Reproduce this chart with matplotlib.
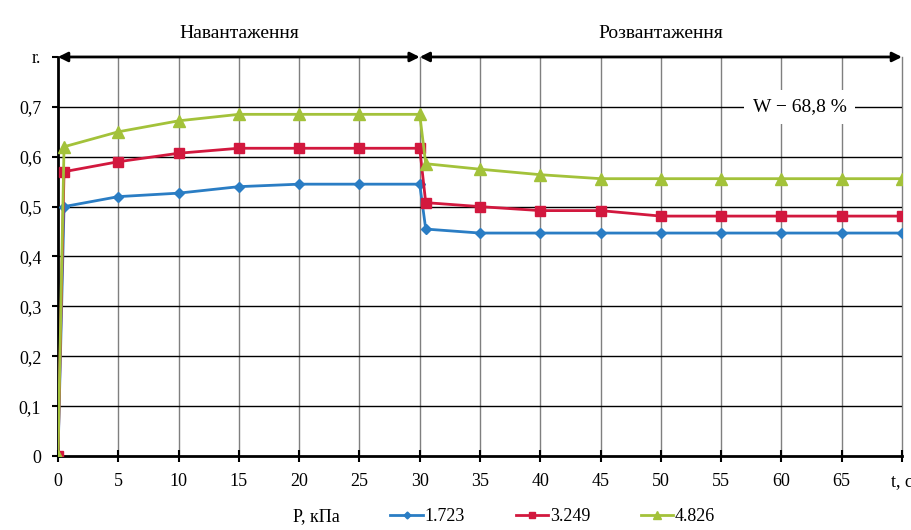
import matplotlib.pyplot as plt

plt.rcParams['font.family'] = ['Liberation Serif', 'DejaVu Serif']

# час, с
t = [0, 0.5, 5, 10, 15, 20, 25, 30, 30.5, 35, 40, 45, 50, 55, 60, 65, 70]

# відносна деформація для трьох тисків
r_1723 = [0, 0.50, 0.52, 0.527, 0.54, 0.545, 0.545, 0.545, 0.455, 0.447, 0.447,
          0.447, 0.447, 0.447, 0.447, 0.447, 0.447]
r_3249 = [0, 0.57, 0.59, 0.607, 0.617, 0.617, 0.617, 0.617, 0.508, 0.50, 0.492,
          0.492, 0.481, 0.481, 0.481, 0.481, 0.481]
r_4826 = [0, 0.62, 0.65, 0.672, 0.685, 0.685, 0.685, 0.685, 0.586, 0.575, 0.564,
          0.556, 0.556, 0.556, 0.556, 0.556, 0.556]

series_labels = ['1.723', '3.249', '4.826']
x_ticks = list(range(0, 66, 5))
y_ticks = [0, 0.1, 0.2, 0.3, 0.4, 0.5, 0.6, 0.7]
y_labels = ['0', '0,1', '0,2', '0,3', '0,4', '0,5', '0,6', '0,7']

fig = plt.figure(figsize=(9.12, 5.3), dpi=100)
ax = fig.add_axes([0.0636, 0.1396, 0.9254, 0.7529])

ax.set_xlim(0, 70)
ax.set_ylim(0, 0.8)

# сітка
for x in range(5, 71, 5):
    ax.axvline(x, color='#7f7f7f', lw=1.0, zorder=1, clip_on=False)
for y in y_ticks[1:]:
    ax.axhline(y, color='black', lw=1.0, zorder=1)

ax.plot(t, r_1723, color='#2a7dc4', lw=2, marker='D', ms=5, label=series_labels[0], zorder=3)
ax.plot(t, r_3249, color='#d2183e', lw=2, marker='s', ms=7, label=series_labels[1], zorder=3)
ax.plot(t, r_4826, color='#a3c23a', lw=2, marker='^', ms=8, label=series_labels[2], zorder=3)

for side in ['top', 'right']:
    ax.spines[side].set_visible(False)
ax.spines['left'].set_linewidth(2)
ax.spines['bottom'].set_linewidth(2)

ax.set_xticks(x_ticks + [70])
ax.set_xticklabels([str(v) for v in x_ticks] + ['t, c'], fontsize=13)
ax.set_yticks(y_ticks + [0.8])
ax.set_yticklabels(y_labels + ['r.'], fontsize=13)
ax.tick_params(axis='both', direction='out', length=4, width=1.5, pad=8)
ax.tick_params(axis='x', direction='inout', length=8)

# стрілки фаз навантаження / розвантаження
arrow = dict(arrowstyle='<|-|>', color='black', lw=2, mutation_scale=14,
             shrinkA=0, shrinkB=0)
ax.annotate('', xy=(0, 0.8), xytext=(30, 0.8), arrowprops=arrow, annotation_clip=False)
ax.annotate('', xy=(30, 0.8), xytext=(70, 0.8), arrowprops=arrow, annotation_clip=False)
ax.text(15, 0.83, 'Навантаження', ha='center', va='bottom', fontsize=14)
ax.text(50, 0.83, 'Розвантаження', ha='center', va='bottom', fontsize=14)

ax.text(61.5, 0.7, 'W − 68,8 %', ha='center', va='center', fontsize=14,
        bbox=dict(facecolor='white', edgecolor='none', pad=6), zorder=4)

# легенда внизу
handles, labels = ax.get_legend_handles_labels()
leg = fig.legend(handles, labels, loc='center left', bbox_to_anchor=(0.428, 0.025),
                 borderaxespad=0, borderpad=0, ncol=3, frameon=False, fontsize=13,
                 handlelength=1.8, columnspacing=2.8, handletextpad=0.1,
                 markerscale=0.7)
fig.text(0.321, 0.025, 'P, кПа', fontsize=13, ha='left', va='center')

fig.savefig('out.png', dpi=100)
